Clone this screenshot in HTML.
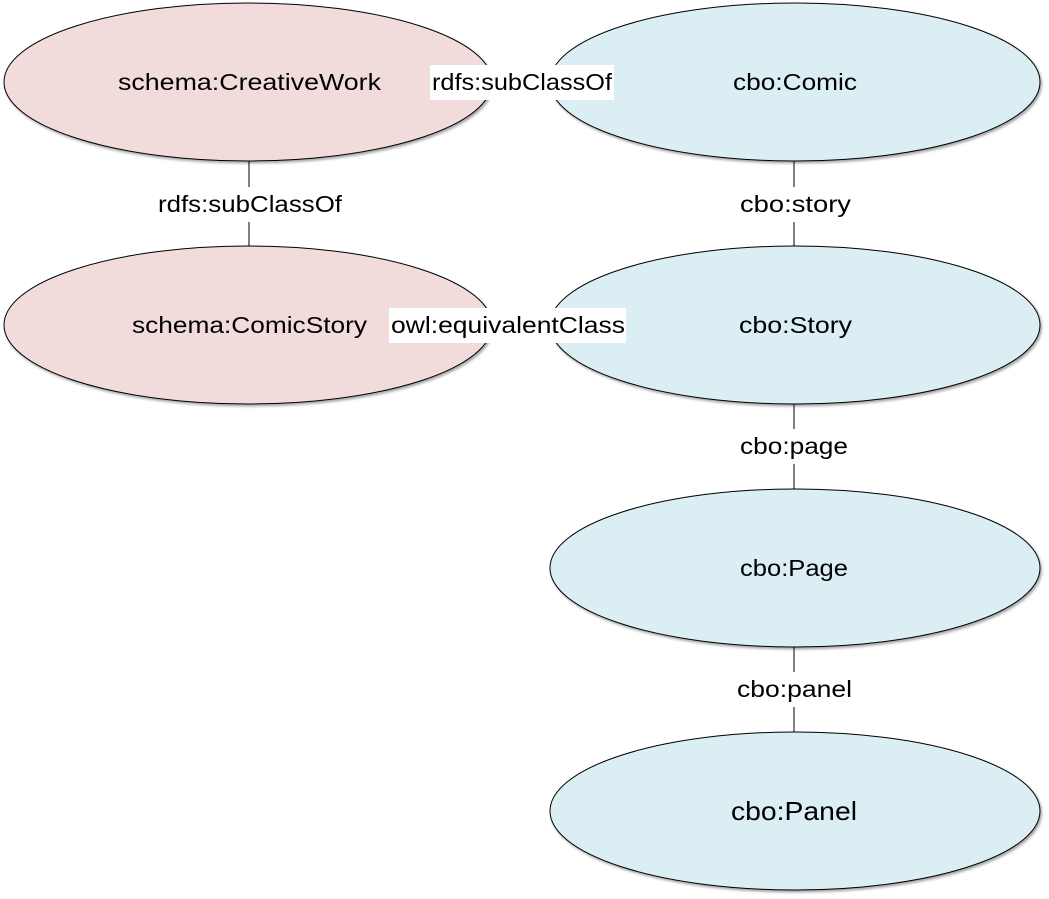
<!DOCTYPE html>
<html><head><meta charset="utf-8"><style>
html,body{margin:0;padding:0;background:#fff;}
svg{display:block;}
text{font-family:"Liberation Sans",sans-serif;font-size:23px;fill:#000;}
</style></head><body>
<svg width="1049" height="899" viewBox="0 0 1049 899" xmlns="http://www.w3.org/2000/svg">
<defs><filter id="sh" x="-5%" y="-5%" width="110%" height="115%"><feDropShadow dx="1.5" dy="2" stdDeviation="1.2" flood-color="#000" flood-opacity="0.35"/></filter></defs>
<g stroke="#000" stroke-width="1">
<line x1="249" y1="161" x2="249" y2="187"/><line x1="249" y1="222" x2="249" y2="247"/>
<line x1="794" y1="161" x2="794" y2="187"/><line x1="794" y1="222" x2="794" y2="247"/>
<line x1="794" y1="404" x2="794" y2="429"/><line x1="794" y1="464" x2="794" y2="489"/>
<line x1="794" y1="647" x2="794" y2="672"/><line x1="794" y1="707" x2="794" y2="733"/>
</g>
<g stroke="#000" stroke-width="1" filter="url(#sh)">
<ellipse cx="248" cy="82" rx="244" ry="79" fill="#f2dcdb"/>
<ellipse cx="248" cy="325" rx="244" ry="79" fill="#f2dcdb"/>
<ellipse cx="795" cy="82" rx="245" ry="79" fill="#dbeef4"/>
<ellipse cx="795" cy="325" rx="245" ry="79" fill="#dbeef4"/>
<ellipse cx="795" cy="568" rx="245" ry="79" fill="#dbeef4"/>
<ellipse cx="795" cy="811" rx="245" ry="79" fill="#dbeef4"/>
</g>
<rect x="430" y="65" width="184" height="35" fill="#fff"/>
<rect x="389" y="308" width="237" height="35" fill="#fff"/>
<text x="118" y="90" textLength="263" lengthAdjust="spacingAndGlyphs">schema:CreativeWork</text>
<text x="432" y="90" textLength="180" lengthAdjust="spacingAndGlyphs">rdfs:subClassOf</text>
<text x="733" y="90" textLength="124" lengthAdjust="spacingAndGlyphs">cbo:Comic</text>
<text x="158" y="212" textLength="184" lengthAdjust="spacingAndGlyphs">rdfs:subClassOf</text>
<text x="740" y="212" textLength="111" lengthAdjust="spacingAndGlyphs">cbo:story</text>
<text x="132" y="333" textLength="235" lengthAdjust="spacingAndGlyphs">schema:ComicStory</text>
<text x="391" y="333" textLength="234" lengthAdjust="spacingAndGlyphs">owl:equivalentClass</text>
<text x="739" y="333" textLength="113" lengthAdjust="spacingAndGlyphs">cbo:Story</text>
<text x="740" y="454" textLength="108" lengthAdjust="spacingAndGlyphs">cbo:page</text>
<text x="740" y="576" textLength="108" lengthAdjust="spacingAndGlyphs">cbo:Page</text>
<text x="737" y="697" textLength="115" lengthAdjust="spacingAndGlyphs">cbo:panel</text>
<text x="731" y="820" style="font-size:26px" textLength="126" lengthAdjust="spacingAndGlyphs">cbo:Panel</text>
</svg>
</body></html>
